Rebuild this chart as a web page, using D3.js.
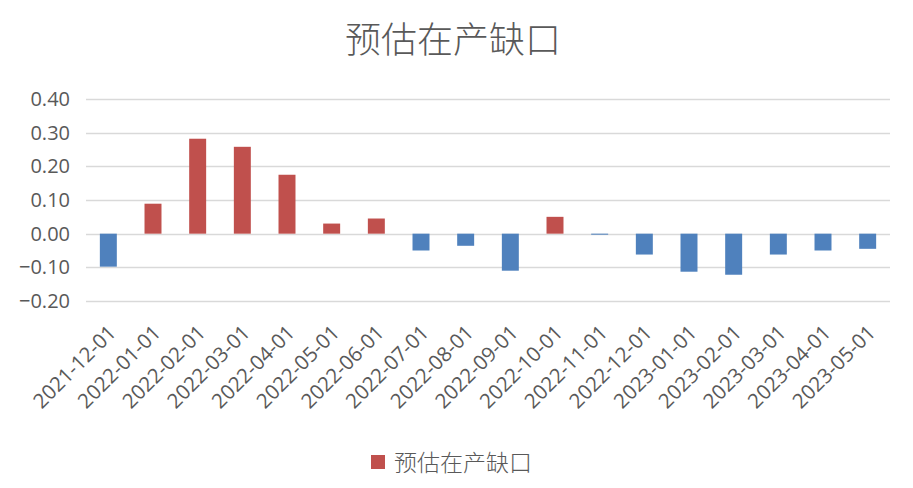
<!DOCTYPE html>
<html><head><meta charset="utf-8">
<script src="https://cdn.jsdelivr.net/npm/d3@7"></script>
<style>body{margin:0;background:#fff}svg{display:block}</style>
</head><body>
<svg id="c" width="913" height="488"></svg>
<script>
const categories = ["2021-12-01","2022-01-01","2022-02-01","2022-03-01","2022-04-01","2022-05-01","2022-06-01","2022-07-01","2022-08-01","2022-09-01","2022-10-01","2022-11-01","2022-12-01","2023-01-01","2023-02-01","2023-03-01","2023-04-01","2023-05-01"];
const values = [-0.098,0.089,0.282,0.258,0.175,0.030,0.045,-0.050,-0.036,-0.110,0.050,-0.003,-0.062,-0.113,-0.122,-0.062,-0.050,-0.045];
const yTicks = [-0.2,-0.1,0,0.1,0.2,0.3,0.4];
const seriesName = "预估在产缺口";
const title = "预估在产缺口";

const svg = d3.select("#c");
const posColor = "#C0504D", negColor = "#4F81BD", textColor = "#595959";
const x = d3.scaleBand().domain(categories).range([86, 890]).paddingInner(0.62).paddingOuter(0.31);
const y = d3.scaleLinear().domain([-0.2, 0.4]).range([301, 99]);

svg.append("text").attr("x", 453).attr("y", 53).attr("text-anchor","middle")
  .attr("font-family","'Noto Sans CJK SC'").attr("font-size",36).attr("font-weight",300).attr("fill",textColor).text(title);

svg.append("g").selectAll("line").data(yTicks).join("line")
  .attr("x1",86).attr("x2",890).attr("y1",d=>Math.round(y(d))+0.5).attr("y2",d=>Math.round(y(d))+0.5)
  .attr("stroke","#d9d9d9").attr("stroke-width",1.3);

svg.append("g").selectAll("text").data(yTicks).join("text")
  .attr("x",70).attr("y",d=>y(d)).attr("dy","0.35em").attr("text-anchor","end")
  .attr("font-family","'Open Sans'").attr("font-size",20).attr("fill",textColor)
  .text(d=>d3.format(".2f")(d));

svg.append("g").selectAll("rect").data(values).join("rect")
  .attr("x",(d,i)=>x(categories[i])).attr("width",x.bandwidth())
  .attr("y",d=>y(Math.max(0,d))).attr("height",d=>Math.abs(y(d)-y(0)))
  .attr("fill",d=>d>=0?posColor:negColor);

svg.append("g").selectAll("text").data(categories).join("text")
  .attr("transform",d=>`translate(${x(d)+x.bandwidth()/2+9},334) rotate(-45)`)
  .attr("text-anchor","end").attr("font-family","'Open Sans'").attr("font-size",20.5).attr("fill",textColor)
  .text(d=>d);

svg.append("rect").attr("x",371).attr("y",455).attr("width",14).attr("height",14).attr("fill",posColor);
svg.append("text").attr("x",394).attr("y",471).attr("font-family","'Noto Sans CJK SC'").attr("font-size",23).attr("font-weight",300).attr("fill",textColor).text(seriesName);
</script>
</body></html>
